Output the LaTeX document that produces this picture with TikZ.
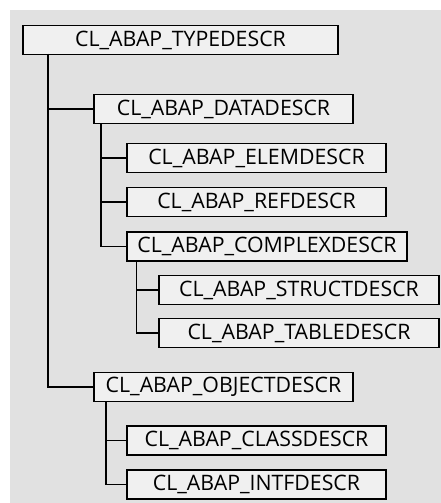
\documentclass[tikz,border=0pt]{standalone}
\usepackage{fontspec}
\setmainfont{Open Sans}
\definecolor{panel}{HTML}{E1E1E1}
\definecolor{boxfill}{HTML}{F0F0F0}
\begin{document}
\begin{tikzpicture}[x=1pt,y=-1pt,
  cls/.style={draw, rectangle, line width=1.9pt, fill=boxfill, minimum height=29pt,
    inner sep=0pt, font=\fontsize{21.3}{24}\selectfont},
  link/.style={draw, line width=1.9pt}]
\useasboundingbox (0,0) rectangle (441,503);
\fill[white] (0,0) rectangle (441,503);
\fill[panel] (10,10) rectangle (441,503);
\node[cls, minimum width=315pt] (type) at (180.5,40) {CL\_ABAP\_TYPEDESCR};
\node[cls, minimum width=259pt] (data) at (223.5,109) {CL\_ABAP\_DATADESCR};
\node[cls, minimum width=259pt] (elem) at (256.5,158) {CL\_ABAP\_ELEMDESCR};
\node[cls, minimum width=259pt] (ref) at (256.5,202) {CL\_ABAP\_REFDESCR};
\node[cls, minimum width=280pt] (complex) at (267,246.5) {CL\_ABAP\_COMPLEXDESCR};
\node[cls, minimum width=280pt] (struct) at (299,290) {CL\_ABAP\_STRUCTDESCR};
\node[cls, minimum width=280pt] (table) at (299,333) {CL\_ABAP\_TABLEDESCR};
\node[cls, minimum width=259pt] (object) at (223.5,387) {CL\_ABAP\_OBJECTDESCR};
\node[cls, minimum width=259pt] (class) at (256.5,440.5) {CL\_ABAP\_CLASSDESCR};
\node[cls, minimum width=259pt] (intf) at (256.5,484.5) {CL\_ABAP\_INTFDESCR};
\coordinate (t0) at (47.7,54);
\coordinate (t1) at (100.7,124);
\coordinate (t2) at (136.5,261);
\coordinate (t3) at (105.7,402);
\path[link] (t0) |- (data);
\path[link] (t0) |- (object);
\path[link] (t1) |- (elem);
\path[link] (t1) |- (ref);
\path[link] (t1) |- (complex);
\path[link] (t2) |- (struct);
\path[link] (t2) |- (table);
\path[link] (t3) |- (class);
\path[link] (t3) |- (intf);
\end{tikzpicture}
\end{document}
